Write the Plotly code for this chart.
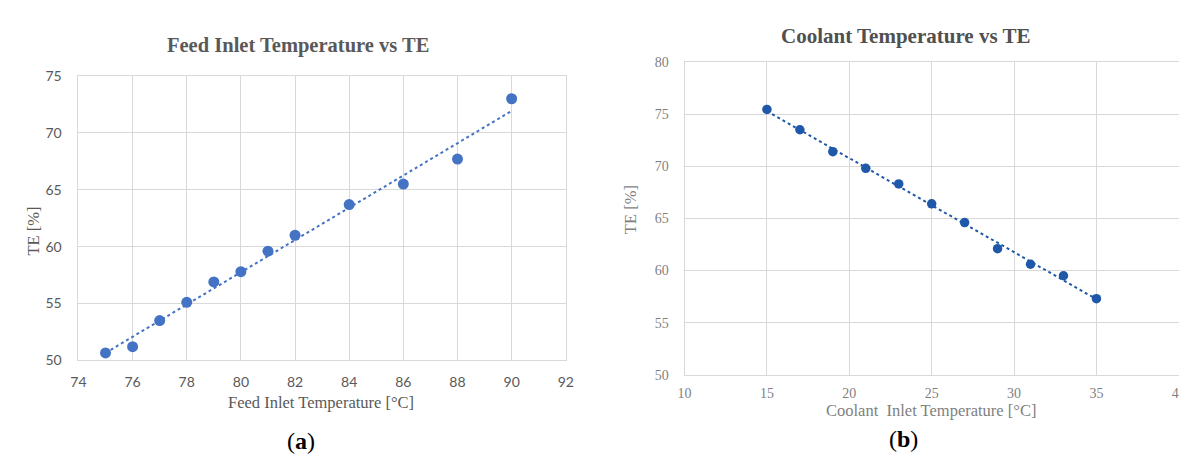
import numpy as np
import plotly.graph_objects as go

# Panel (a): Feed inlet temperature vs TE
feed_temp = [75, 76, 77, 78, 79, 80, 81, 82, 84, 86, 88, 90]
feed_te = [50.65, 51.2, 53.5, 55.1, 56.9, 57.8, 59.6, 61.0, 63.7, 65.5, 67.7, 73.0]

# Panel (b): Coolant inlet temperature vs TE
cool_temp = [15, 17, 19, 21, 23, 25, 27, 29, 31, 33, 35]
cool_te = [75.45, 73.5, 71.4, 69.8, 68.3, 66.4, 64.6, 62.1, 60.6, 59.5, 57.3]

title_a = "Feed Inlet Temperature vs TE"
title_b = "Coolant Temperature vs TE"
xlabel_a = "Feed Inlet Temperature [°C]"
xlabel_b = "Coolant  Inlet Temperature [°C]"
ylabel = "TE [%]"

# Linear trendlines
pa = np.polyfit(feed_temp, feed_te, 1)
pb = np.polyfit(cool_temp, cool_te, 1)
tx_a = [min(feed_temp), max(feed_temp)]
tx_b = [min(cool_temp), max(cool_temp)]

W, H = 1187, 455
blue_a = "#4472C4"
blue_b = "#1F58A8"
grid = "#D9D9D9"

fig = go.Figure()
fig.add_trace(go.Scatter(x=tx_a, y=list(np.polyval(pa, tx_a)), mode="lines",
                         line=dict(color=blue_a, width=2, dash="dot"),
                         xaxis="x", yaxis="y", showlegend=False))
fig.add_trace(go.Scatter(x=feed_temp, y=feed_te, mode="markers",
                         marker=dict(color=blue_a, size=11),
                         xaxis="x", yaxis="y", showlegend=False))
fig.add_trace(go.Scatter(x=tx_b, y=list(np.polyval(pb, tx_b)), mode="lines",
                         line=dict(color=blue_b, width=2, dash="dot"),
                         xaxis="x2", yaxis="y2", showlegend=False))
fig.add_trace(go.Scatter(x=cool_temp, y=cool_te, mode="markers",
                         marker=dict(color=blue_b, size=9.5),
                         xaxis="x2", yaxis="y2", showlegend=False))

def px(x):
    return x / W

def py(y):
    return 1 - y / H

ax_common = dict(showgrid=True, gridcolor=grid, gridwidth=1, zeroline=False,
                 showline=True, linecolor=grid, linewidth=1, mirror=True,
                 ticks="", fixedrange=True)

sans = "Lato, Open Sans, sans-serif"
serif = "Liberation Serif, Times New Roman, serif"

fig.update_layout(
    width=W, height=H,
    margin=dict(l=0, r=0, t=0, b=0),
    paper_bgcolor="white", plot_bgcolor="white",
    xaxis=dict(domain=[px(63.3), px(557.3)], range=[74, 92], dtick=2,
               tickfont=dict(family=sans, size=14, color="#595959"),
               ticklabelstandoff=9, anchor="y", **ax_common),
    yaxis=dict(domain=[py(356.7), py(61.3)], range=[50, 75], dtick=5,
               tickfont=dict(family=sans, size=14, color="#595959"),
               ticklabelstandoff=13, anchor="x", **ax_common),
    xaxis2=dict(domain=[px(677.7), px(1178.7)], range=[10, 40], dtick=5,
                tickfont=dict(family=serif, size=14, color="#7F7F7F"),
                ticklabelstandoff=5, anchor="y2", **ax_common),
    yaxis2=dict(domain=[py(371.7), py(46.7)], range=[50, 80], dtick=5,
                tickfont=dict(family=serif, size=14, color="#7F7F7F"),
                ticklabelstandoff=12, anchor="x2", **ax_common),
)

ann = [
    dict(x=px(285.5), y=py(30), text="<b>" + title_a + "</b>",
         font=dict(family=serif, size=20.5, color="#595959")),
    dict(x=px(309.5), y=py(400), text=xlabel_a,
         font=dict(family=serif, size=16.5, color="#595959")),
    dict(x=px(18), y=py(222), text=ylabel, textangle=-90,
         font=dict(family=serif, size=16.5, color="#595959")),
    dict(x=px(289), y=py(440), text="(<b>a</b>)",
         font=dict(family=serif, size=24, color="black")),
    dict(x=px(902), y=py(20), text="<b>" + title_b + "</b>",
         font=dict(family=serif, size=21, color="#505050")),
    dict(x=px(927), y=py(409), text=xlabel_b,
         font=dict(family=serif, size=16.5, color="#7F7F7F")),
    dict(x=px(623), y=py(200), text=ylabel, textangle=-90,
         font=dict(family=serif, size=16.5, color="#7F7F7F")),
    dict(x=px(900), y=py(438), text="(<b>b</b>)",
         font=dict(family=serif, size=24, color="black")),
]
for a in ann:
    a.update(xref="paper", yref="paper", showarrow=False,
             xanchor="center", yanchor="middle")
fig.update_layout(annotations=ann)

fig.write_html("out.html")
